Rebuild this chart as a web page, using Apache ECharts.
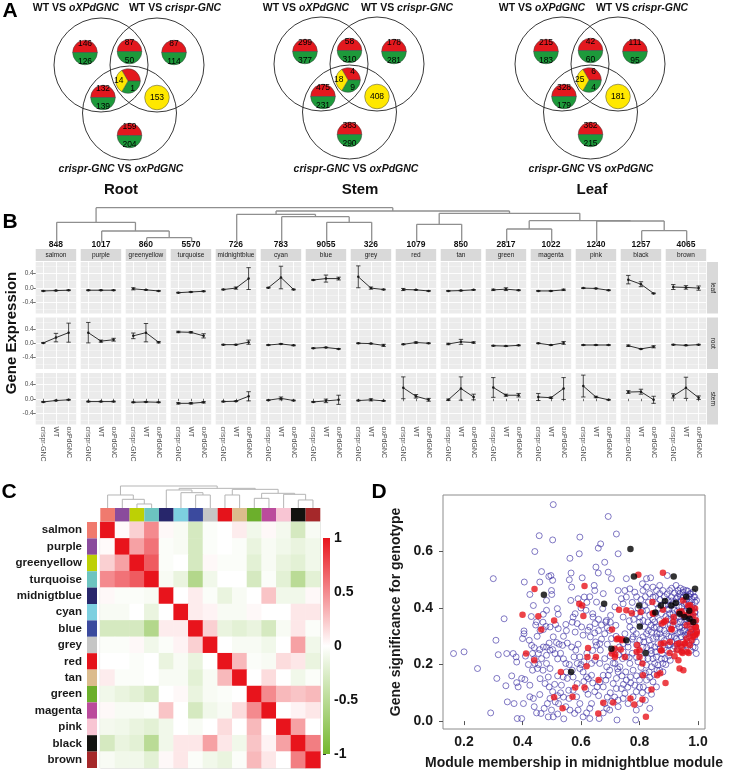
<!DOCTYPE html>
<html><head><meta charset="utf-8">
<script src="https://cdn.jsdelivr.net/npm/echarts@6/dist/echarts.min.js"></script>
<style>html,body{margin:0;padding:0;background:#fff}#c{width:729px;height:772px}</style>
</head><body><div id="c"></div>
<script>
// ================= DATA =================
// Panel A: Venn counts [up(red), down(green)] per region: onlyA, A&B, onlyB, A&C, onlyC
const vennTissues = ['Root', 'Stem', 'Leaf'];
const rootUpDown = [[146,126],[87,50],[87,114],[132,139],[159,204]];
const stemUpDown = [[299,377],[58,310],[178,281],[475,231],[383,290]];
const leafUpDown = [[215,183],[42,60],[111,95],[328,179],[362,215]];
// center (all three): [red, green, yellow]
const rootCenter = ['', 1, 14];
const stemCenter = [4, 9, 18];
const leafCenter = [6, 4, 25];
// B & C only (yellow)
const rootBC = 153, stemBC = 408, leafBC = 181;

// Panel B
const modules = ['salmon','purple','greenyellow','turquoise','midnightblue','cyan','blue','grey','red','tan','green','magenta','pink','black','brown'];
const moduleSizes = [848,1017,860,5570,726,783,9055,326,1079,850,2817,1022,1240,1257,4065];
const genotypes = ['crispr-GNC','WT','oxPdGNC'];
const tissues = ['leaf','root','stem'];
const leafMean = [[-0.09,-0.08,-0.07],[-0.07,-0.07,-0.07],[-0.03,-0.06,-0.09],[-0.14,-0.12,-0.10],[-0.05,-0.01,0.26],[0.0,0.29,-0.05],[0.22,0.26,0.26],[0.31,-0.01,-0.05],[-0.05,-0.06,-0.09],[-0.09,-0.08,-0.06],[-0.06,-0.04,-0.07],[-0.09,-0.09,-0.06],[-0.01,-0.02,-0.07],[0.23,0.10,-0.16],[0.02,0.01,-0.01]];
const leafErr  = [[0.01,0.01,0.01],[0.01,0.01,0.01],[0.03,0.01,0.01],[0.01,0.01,0.01],[0.01,0.03,0.31],[0.01,0.32,0.01],[0.01,0.10,0.04],[0.31,0.03,0.01],[0.03,0.01,0.01],[0.01,0.01,0.01],[0.02,0.04,0.01],[0.01,0.01,0.02],[0.01,0.01,0.01],[0.12,0.07,0.01],[0.07,0.05,0.06]];
const rootMean = [[0.01,0.16,0.30],[0.30,0.06,0.10],[0.21,0.30,0.03],[0.32,0.31,0.21],[-0.04,-0.04,0.03],[-0.05,-0.02,-0.06],[-0.14,-0.12,-0.16],[0.0,-0.01,-0.06],[-0.03,0.02,0.0],[-0.02,0.04,0.02],[-0.07,-0.08,-0.06],[0.0,-0.05,0.01],[-0.05,-0.05,-0.05],[-0.07,-0.16,-0.10],[-0.04,-0.06,-0.04]];
const rootErr  = [[0.01,0.12,0.27],[0.29,0.03,0.04],[0.08,0.26,0.02],[0.02,0.02,0.06],[0.01,0.01,0.06],[0.01,0.01,0.01],[0.01,0.01,0.01],[0.01,0.01,0.03],[0.01,0.02,0.01],[0.02,0.07,0.02],[0.01,0.01,0.01],[0.01,0.01,0.04],[0.01,0.01,0.01],[0.02,0.01,0.03],[0.01,0.01,0.01]];
const stemMean = [[-0.09,-0.05,-0.03],[-0.08,-0.08,-0.08],[-0.10,-0.09,-0.10],[-0.13,-0.13,-0.10],[-0.08,-0.07,0.07],[-0.04,0.01,-0.05],[-0.09,-0.06,-0.03],[-0.05,-0.03,-0.06],[0.31,0.07,-0.03],[-0.03,0.29,0.05],[0.32,0.10,0.10],[0.05,0.03,0.29],[0.36,0.05,-0.03],[0.19,0.20,-0.03],[0.08,0.31,0.03]];
const stemErr  = [[0.01,0.01,0.01],[0.01,0.01,0.01],[0.01,0.01,0.01],[0.02,0.02,0.02],[0.01,0.01,0.13],[0.01,0.04,0.01],[0.01,0.05,0.13],[0.01,0.03,0.01],[0.31,0.05,0.04],[0.02,0.33,0.08],[0.28,0.03,0.05],[0.10,0.02,0.31],[0.31,0.02,0.01],[0.04,0.07,0.10],[0.06,0.30,0.05]];
// dendrogram merges [left, right, height]; leaves 0..14, internal nodes 15..
const dendroB = [[2,3,4.6],[1,15,11.3],[0,16,20],[6,7,20],[5,18,25.6],[4,19,28],[8,9,18],[10,11,13.3],[13,14,11.6],[12,23,21.3],[22,24,21.6],[21,25,29],[20,26,31.3],[17,27,34.6]];

// Panel C
const moduleColors = ['#f07a6e','#8a4b9c','#bdd005','#6cc4c0','#27266b','#7dcfe0','#3b4a9e','#c6c6c6','#e5131b','#dbbc8d','#6caf2c','#bb4b9c','#f8c5d3','#13120f','#a5282a'];
const rowLabels = ['salmon','purple','greenyellow','turquoise','midnigtblue','cyan','blue','grey','red','tan','green','magenta','pink','black','brown'];
const corr = [
 [1,0.02,0.2,0.5,0.03,-0.05,-0.3,-0.03,0,0.08,-0.1,0.03,-0.08,-0.3,-0.05],
 [0.02,1,0.4,0.6,-0.03,-0.05,-0.3,-0.03,0,-0.03,-0.15,-0.05,-0.1,-0.15,-0.1],
 [0.2,0.4,1,0.7,-0.03,0,-0.3,0.03,-0.03,-0.03,-0.2,-0.05,-0.15,-0.2,-0.1],
 [0.5,0.6,0.7,1,-0.05,-0.15,-0.55,-0.1,0,0,-0.3,-0.03,-0.2,-0.5,-0.2],
 [0.03,-0.03,-0.03,-0.05,1,0,0.08,-0.03,-0.15,-0.05,0,0.25,-0.1,-0.1,0.03],
 [-0.05,-0.05,0,-0.15,0,1,0.08,0.05,-0.05,-0.05,0.03,0,0,0.1,0.1],
 [-0.3,-0.3,-0.3,-0.55,0.08,0.08,1,0.2,-0.15,-0.2,-0.15,-0.3,-0.05,0.1,-0.03],
 [-0.03,-0.03,0.03,-0.1,-0.03,0.05,0.2,1,0,-0.05,-0.05,-0.1,0,0.4,-0.1],
 [0,0,-0.03,0,-0.15,-0.05,-0.15,0,1,0.3,-0.03,-0.05,0.15,0.1,-0.15],
 [0.08,-0.03,-0.03,0,-0.05,-0.05,-0.2,-0.05,0.3,1,0,0.15,0,-0.1,-0.03],
 [-0.1,-0.15,-0.2,-0.3,0,0.03,-0.15,-0.05,-0.03,0,1,0.5,0.3,0.25,0.3],
 [0.03,-0.05,-0.05,-0.03,0.25,0,-0.3,-0.1,-0.05,0.15,0.5,1,0,0.05,0.1],
 [-0.08,-0.1,-0.15,-0.2,-0.1,0,-0.05,0,0.15,0,0.3,0,1,0.4,0],
 [-0.3,-0.15,-0.2,-0.5,-0.1,0.1,0.1,0.4,0.1,-0.1,0.25,0.05,0.4,1,0.55],
 [-0.05,-0.1,-0.1,-0.2,0.03,0.1,-0.03,-0.1,-0.15,-0.03,0.3,0.1,0,0.55,1]
];
const colorTicks = [-1,-0.5,0,0.5,1];
const dendroC = [[2,3,13],[1,15,27],[0,16,40],[6,7,40],[5,18,47],[4,19,55],[8,9,40],[10,11,30],[13,14,25],[12,23,42],[22,24,45],[21,25,57],[20,26,60],[17,27,67]];

// Panel D (module membership, gene significance)
const dTicksX = [0.2,0.4,0.6,0.8,1.0];
const dTicksY = [0,0.2,0.4,0.6];
const purplePts = [[0.164,0.239],[0.2,0.245],[0.246,0.186],[0.30,0.504],[0.291,0.029],[0.337,0.362],[0.309,0.286],[0.312,0.151],[0.317,0.235],[0.343,0.125],[0.346,0.239],[0.363,0.16],[0.368,0.239],[0.378,0.227],[0.38,0.209],[0.348,0.068],[0.38,0.136],[0.385,0.121],[0.371,0.062],[0.382,0.009],[0.397,0.009],[0.403,0.062],[0.397,0.151],[0.408,0.147],[0.406,0.492],[0.405,0.319],[0.405,0.309],[0.40,0.292],[0.423,0.286],[0.431,0.268],[0.425,0.448],[0.442,0.60],[0.437,0.409],[0.448,0.351],[0.445,0.34],[0.434,0.239],[0.442,0.204],[0.451,0.186],[0.434,0.18],[0.425,0.127],[0.425,0.086],[0.437,0.08],[0.44,0.051],[0.448,0.029],[0.459,0.094],[0.463,0.027],[0.457,0.656],[0.465,0.529],[0.459,0.492],[0.482,0.427],[0.49,0.512],[0.497,0.515],[0.503,0.498],[0.499,0.462],[0.50,0.448],[0.503,0.641],[0.505,0.766],[0.482,0.392],[0.471,0.378],[0.48,0.335],[0.471,0.324],[0.494,0.333],[0.519,0.398],[0.522,0.378],[0.513,0.341],[0.522,0.327],[0.505,0.298],[0.491,0.276],[0.482,0.262],[0.471,0.262],[0.459,0.253],[0.454,0.239],[0.465,0.221],[0.482,0.233],[0.494,0.251],[0.503,0.253],[0.511,0.239],[0.516,0.278],[0.525,0.272],[0.482,0.204],[0.494,0.186],[0.488,0.156],[0.477,0.133],[0.491,0.121],[0.503,0.104],[0.494,0.08],[0.485,0.062],[0.474,0.045],[0.499,0.039],[0.488,0.015],[0.505,0.015],[0.512,0.068],[0.523,0.062],[0.52,0.025],[0.541,0.008],[0.533,0.127],[0.539,0.156],[0.548,0.204],[0.55,0.174],[0.553,0.151],[0.558,0.109],[0.559,0.08],[0.548,0.051],[0.562,0.039],[0.565,0.427],[0.568,0.474],[0.56,0.50],[0.566,0.524],[0.562,0.576],[0.548,0.342],[0.553,0.276],[0.537,0.268],[0.568,0.262],[0.576,0.227],[0.582,0.251],[0.59,0.272],[0.573,0.368],[0.587,0.345],[0.58,0.315],[0.59,0.433],[0.594,0.592],[0.596,0.651],[0.604,0.507],[0.611,0.439],[0.617,0.392],[0.602,0.333],[0.607,0.304],[0.624,0.321],[0.63,0.333],[0.632,0.298],[0.647,0.312],[0.648,0.345],[0.641,0.368],[0.653,0.421],[0.647,0.462],[0.645,0.48],[0.659,0.524],[0.659,0.612],[0.667,0.627],[0.693,0.724],[0.693,0.527],[0.681,0.562],[0.651,0.545],[0.676,0.451],[0.674,0.398],[0.687,0.356],[0.685,0.351],[0.664,0.274],[0.653,0.268],[0.666,0.251],[0.681,0.221],[0.664,0.204],[0.647,0.215],[0.636,0.204],[0.619,0.156],[0.636,0.162],[0.607,0.174],[0.596,0.186],[0.587,0.204],[0.596,0.227],[0.573,0.156],[0.587,0.133],[0.573,0.109],[0.585,0.086],[0.596,0.062],[0.59,0.039],[0.578,0.027],[0.607,0.015],[0.619,0.029],[0.63,0.009],[0.63,0.045],[0.636,0.062],[0.624,0.095],[0.616,0.112],[0.647,0.104],[0.655,0.121],[0.664,0.138],[0.676,0.121],[0.685,0.145],[0.676,0.162],[0.693,0.162],[0.698,0.18],[0.688,0.192],[0.676,0.029],[0.688,0.045],[0.698,0.039],[0.681,0.062],[0.662,0.009],[0.723,0.004],[0.727,0.074],[0.727,0.051],[0.744,0.08],[0.75,0.098],[0.761,0.062],[0.738,0.115],[0.721,0.115],[0.71,0.133],[0.721,0.151],[0.727,0.174],[0.716,0.204],[0.733,0.192],[0.742,0.221],[0.744,0.245],[0.744,0.274],[0.731,0.262],[0.761,0.262],[0.755,0.227],[0.767,0.204],[0.753,0.174],[0.769,0.156],[0.778,0.18],[0.784,0.127],[0.789,0.104],[0.778,0.086],[0.789,0.039],[0.787,0.004],[0.801,0.062],[0.8,0.145],[0.813,0.121],[0.82,0.074],[0.835,0.045],[0.829,0.109],[0.824,0.145],[0.833,0.174],[0.841,0.192],[0.824,0.198],[0.812,0.221],[0.829,0.221],[0.846,0.221],[0.841,0.239],[0.858,0.227],[0.852,0.204],[0.863,0.198],[0.869,0.18],[0.88,0.204],[0.887,0.221],[0.878,0.239],[0.892,0.251],[0.863,0.274],[0.852,0.262],[0.838,0.268],[0.833,0.286],[0.846,0.292],[0.858,0.298],[0.869,0.309],[0.841,0.315],[0.824,0.309],[0.812,0.298],[0.801,0.286],[0.789,0.309],[0.778,0.321],[0.767,0.333],[0.778,0.298],[0.812,0.262],[0.801,0.245],[0.818,0.333],[0.829,0.351],[0.812,0.356],[0.801,0.368],[0.789,0.38],[0.818,0.409],[0.824,0.392],[0.835,0.375],[0.852,0.351],[0.858,0.333],[0.869,0.356],[0.858,0.415],[0.846,0.439],[0.835,0.451],[0.824,0.474],[0.812,0.462],[0.81,0.486],[0.824,0.504],[0.838,0.507],[0.846,0.474],[0.858,0.462],[0.869,0.451],[0.88,0.462],[0.869,0.48],[0.895,0.515],[0.903,0.462],[0.909,0.439],[0.92,0.453],[0.932,0.462],[0.937,0.451],[0.949,0.456],[0.96,0.462],[0.972,0.451],[0.983,0.456],[0.989,0.439],[0.995,0.427],[0.898,0.427],[0.926,0.433],[0.943,0.427],[0.954,0.415],[0.935,0.404],[0.92,0.392],[0.903,0.38],[0.898,0.362],[0.909,0.356],[0.926,0.368],[0.954,0.351],[0.966,0.374],[0.989,0.386],[0.972,0.333],[0.954,0.321],[0.937,0.333],[0.92,0.321],[0.903,0.327],[0.892,0.309],[0.909,0.298],[0.926,0.292],[0.943,0.298],[0.96,0.298],[0.977,0.315],[0.989,0.298],[0.994,0.28],[0.949,0.28],[0.915,0.256],[0.898,0.268],[0.983,0.262],[0.994,0.239],[0.88,0.174],[0.846,0.139],[0.858,0.121],[0.841,0.095],[0.704,0.504],[0.727,0.462],[0.738,0.433],[0.744,0.415],[0.755,0.439],[0.75,0.462],[0.755,0.504],[0.767,0.468],[0.784,0.456],[0.727,0.592],[0.721,0.662],[0.716,0.404],[0.701,0.374],[0.744,0.368],[0.719,0.339],[0.698,0.321],[0.681,0.309],[0.704,0.292],[0.69,0.272],[0.75,0.309],
[0.96,0.43],[0.97,0.42],[0.98,0.41],[0.985,0.40],[0.975,0.39],[0.965,0.40],[0.955,0.39],[0.945,0.38],[0.96,0.36],[0.97,0.35],[0.98,0.36],[0.99,0.35],[0.985,0.34],[0.975,0.325],[0.965,0.31],[0.955,0.305],[0.94,0.315],[0.93,0.345],[0.915,0.34],[0.905,0.41],[0.915,0.415],[0.925,0.42],[0.94,0.44],[0.95,0.44],[0.96,0.445],[0.97,0.44],[0.98,0.43],[0.99,0.42],[0.99,0.37],[0.995,0.32],[0.99,0.31],[0.98,0.285],[0.97,0.275],[0.96,0.27],[0.945,0.26],[0.93,0.255],[0.93,0.275],[0.91,0.28],[0.885,0.285],[0.875,0.295],[0.885,0.32],[0.88,0.34],[0.89,0.37],[0.875,0.38],[0.865,0.4],[0.88,0.41],[0.885,0.44],[0.895,0.45],[0.91,0.47],[0.925,0.48],[0.94,0.47],[0.855,0.38],[0.845,0.36],[0.87,0.43],[0.855,0.44],[0.96,0.39],[0.95,0.37],[0.935,0.37],[0.92,0.355],[0.905,0.34],[0.895,0.395],[0.87,0.325],[0.86,0.31],[0.85,0.33],[0.84,0.34],[0.83,0.32],[0.815,0.28],[0.825,0.26],[0.84,0.25],[0.855,0.245],[0.87,0.255],[0.885,0.26],[0.9,0.23],[0.905,0.215],[0.89,0.2],[0.875,0.22],[0.86,0.18],[0.85,0.165],[0.835,0.155],[0.82,0.17],[0.805,0.19],[0.795,0.21],[0.79,0.225],[0.775,0.24],[0.765,0.225],[0.76,0.28],[0.775,0.29],[0.79,0.27],[0.8,0.35],[0.81,0.39],[0.795,0.4],[0.78,0.36],[0.765,0.355],[0.775,0.42],[0.79,0.44],[0.805,0.43],[0.82,0.44],[0.83,0.42],[0.77,0.39],[0.72,0.3],[0.71,0.25],[0.73,0.235],[0.7,0.23],[0.71,0.205],[0.725,0.185],[0.74,0.16],[0.755,0.145],[0.77,0.135],[0.76,0.12],[0.745,0.13],[0.8,0.12],[0.81,0.1],[0.79,0.16],[0.81,0.165],[0.7,0.1],[0.715,0.085],[0.705,0.07],[0.69,0.085],[0.66,0.09],[0.64,0.135],[0.625,0.15],[0.61,0.14],[0.6,0.2],[0.61,0.21],[0.62,0.24],[0.64,0.25],[0.65,0.28],[0.67,0.29],[0.66,0.32],[0.67,0.34],[0.69,0.33],[0.7,0.35],[0.66,0.36],[0.64,0.38],[0.62,0.42],[0.63,0.44],[0.6,0.4],[0.58,0.38],[0.57,0.35],[0.55,0.32],[0.54,0.3],[0.53,0.24],[0.52,0.22],[0.54,0.22],[0.56,0.2],[0.57,0.18],[0.52,0.16],[0.51,0.13],[0.53,0.1],[0.54,0.085],[0.52,0.09],[0.46,0.15],[0.47,0.18],[0.455,0.2],[0.44,0.22],[0.42,0.2],[0.41,0.23],[0.44,0.26],[0.45,0.3],[0.46,0.32],[0.47,0.35],[0.43,0.37],
[0.975,0.37],[0.965,0.355],[0.955,0.34],[0.945,0.33],[0.93,0.31],[0.92,0.3],[0.94,0.35],[0.95,0.32],[0.97,0.3],[0.985,0.305],[0.99,0.385],[0.98,0.395],[0.97,0.405],[0.96,0.415],[0.945,0.405],[0.93,0.39],[0.915,0.38],[0.9,0.395],[0.89,0.41],[0.91,0.425],[0.93,0.44],[0.985,0.44],[0.975,0.45],[0.965,0.46],[0.95,0.465],[0.9,0.3],[0.905,0.27],[0.92,0.265],[0.95,0.25],[0.975,0.25],[0.99,0.26]];
const redPts = [[0.441,0.467],[0.40,0.376],[0.454,0.371],[0.464,0.324],[0.508,0.356],[0.412,0.239],[0.44,0.215],[0.612,0.478],[0.594,0.415],[0.604,0.409],[0.608,0.372],[0.73,0.394],[0.755,0.392],[0.774,0.382],[0.796,0.518],[0.88,0.525],[0.844,0.421],[0.845,0.382],[0.88,0.394],[0.89,0.356],[0.876,0.345],[0.909,0.327],[0.917,0.368],[0.944,0.389],[0.949,0.427],[0.966,0.409],[0.977,0.35],[0.992,0.333],[0.995,0.309],[0.983,0.298],[0.972,0.268],[0.954,0.274],[0.943,0.262],[0.928,0.272],[0.968,0.241],[0.947,0.241],[0.92,0.229],[0.903,0.241],[0.937,0.186],[0.889,0.135],[0.873,0.274],[0.873,0.25],[0.86,0.162],[0.871,0.169],[0.812,0.162],[0.81,0.076],[0.822,0.015],[0.782,0.059],[0.769,0.08],[0.676,0.065],[0.71,0.066],[0.659,0.027],[0.571,0.086],[0.537,0.045],[0.508,0.084],[0.531,0.174],[0.58,0.119],[0.612,0.119],[0.66,0.145],[0.619,0.194],[0.622,0.227],[0.624,0.259],[0.716,0.256],[0.705,0.239],[0.727,0.292],[0.717,0.236],[0.792,0.269],[0.79,0.245],[0.8,0.227],[0.81,0.204],[0.841,0.112],[0.706,0.324],[0.74,0.29],[0.804,0.386],[0.847,0.38],[0.884,0.351],[0.916,0.351],[0.936,0.386],[0.95,0.375],[0.967,0.38],[0.978,0.392],[0.99,0.398],[0.973,0.41],[0.984,0.375],[0.993,0.357],[0.961,0.339],[0.978,0.327],[0.993,0.333],[0.973,0.31],[0.99,0.304],[0.961,0.292],[0.978,0.286],[0.996,0.316],[0.956,0.275],[0.936,0.275],[0.927,0.251],[0.944,0.245],[0.904,0.28],[0.963,0.245],[0.91,0.324],[0.739,0.286],[0.722,0.29],[0.651,0.227],[0.716,0.227],[0.736,0.253],[0.876,0.251],[0.8,0.251],[0.95,0.18],[0.884,0.275],[0.933,0.215],[0.75,0.227]];
const blackPts = [[0.769,0.609],[0.781,0.512],[0.917,0.512],[0.473,0.447],[0.679,0.415],[0.799,0.409],[0.887,0.425],[0.873,0.409],[0.909,0.409],[0.924,0.418],[0.99,0.468],[0.96,0.44],[0.854,0.384],[0.937,0.38],[0.954,0.368],[0.971,0.362],[0.984,0.351],[0.801,0.335],[0.755,0.286],[0.704,0.256],[0.821,0.241],[0.566,0.174],[0.97,0.39]];

// ================= BUILD =================
const FONT = '"Liberation Sans", Arial, Helvetica, sans-serif';
const RED = '#e3181e', GREEN = '#1d9a3b', YELLOW = '#ffe800';
const grids = [], xAxes = [], yAxes = [], series = [], graphics = [];
const txt = (x, y, text, o) => graphics.push(Object.assign({type:'text', x, y, silent:true,
  style: Object.assign({text, fontFamily: FONT, fill:'#111', align:'center', verticalAlign:'middle'}, o && o.style)}, o && o.el));

// ---- Panel letters
[['A',10,11],['B',10,222],['C',9,492],['D',379,492]].forEach(([t,x,y]) =>
  txt(x, y, t, {style:{fontSize:21, fontWeight:'bold', fill:'#000'}}));

// ---- Panel A
const vennBase = [[101,65],[321,64],[562,64]];
const vennR = 47;
const circOff = [[0,0],[56,0],[28.5,48]];
const regionOff = [[-16,-12.5],[28.5,-13.5],[73,-12.5],[2,32.5],[28.5,70.5]]; // onlyA, AB, onlyB, AC, onlyC
const centerOff = [27,16], bcOff = [56,32.5];
const titleX = [[76,175,121],[306,407,356],[542,642,591]];
const tissueX = [121, 360, 592];
const upDownAll = [rootUpDown, stemUpDown, leafUpDown];
const centerAll = [rootCenter, stemCenter, leafCenter];
const bcAll = [rootBC, stemBC, leafBC];
const pieLabel = {fontSize:8.5, color:'#000000', fontFamily:FONT, textBorderWidth:0, textShadowBlur:0, opacity:1};
const pieBase = {type:'pie', radius:12.3, silent:true, animation:false, avoidLabelOverlap:false,
  labelLine:{show:false}, itemStyle:{borderColor:'#444', borderWidth:0.5},
  label:Object.assign({position:'inside'}, pieLabel)};
vennTissues.forEach((tName, t) => {
  const [bx, by] = vennBase[t];
  circOff.forEach(([dx,dy]) => graphics.push({type:'circle', silent:true, shape:{cx:bx+dx, cy:by+dy, r:vennR}, style:{fill:'none', stroke:'#222', lineWidth:0.9}}));
  const rich = {n:{fontWeight:'bold', fontSize:10.5, fontFamily:FONT, fill:'#111'}, i:{fontWeight:'bold', fontStyle:'italic', fontSize:10.5, fontFamily:FONT, fill:'#111'}};
  txt(titleX[t][0], 8, '{n|WT VS }{i|oXPdGNC}', {style:{rich}});
  txt(titleX[t][1], 8, '{n|WT VS }{i|crispr-GNC}', {style:{rich}});
  txt(titleX[t][2], 169, '{i|crispr-GNC}{n| VS }{i|oxPdGNC}', {style:{rich}});
  txt(tissueX[t], 190, tName, {style:{fontSize:15, fontWeight:'bold', fill:'#111'}});
  upDownAll[t].forEach((ud, k) => {
    series.push(Object.assign({}, pieBase, {center:[bx+regionOff[k][0], by+regionOff[k][1]], startAngle:180, clockwise:true,
      data:[{value:1, name:'up', itemStyle:{color:RED}, label:{formatter:String(ud[0])}},
            {value:1, name:'down', itemStyle:{color:GREEN}, label:{formatter:String(ud[1])}}]}));
  });
  const c = centerAll[t];
  series.push(Object.assign({}, pieBase, {center:[bx+centerOff[0], by+centerOff[1]], startAngle:120, clockwise:true,
    data:[{value:1, name:'up', itemStyle:{color:RED}, label:{formatter:String(c[0])}},
          {value:1, name:'down', itemStyle:{color:GREEN}, label:{formatter:String(c[1])}},
          {value:1, name:'shared', itemStyle:{color:YELLOW}, label:{formatter:String(c[2])}}]}));
  series.push(Object.assign({}, pieBase, {center:[bx+bcOff[0], by+bcOff[1]],
    label:Object.assign({position:'center'}, pieLabel),
    data:[{value:1, name:'bc', itemStyle:{color:YELLOW}, label:{formatter:String(bcAll[t])}}]}));
});

// ---- Panel B facets
const BX0 = 35.7, BDX = 45, BW = 40.5, BY0 = 262, BDY = 55.5, BH = 51.5;
const meansAll = [leafMean, rootMean, stemMean], errsAll = [leafErr, rootErr, stemErr];
const errRender = (p, api) => {
  const x = api.value(0), lo = api.coord([x, api.value(1)]), hi = api.coord([x, api.value(2)]);
  const w = 2.2, st = {stroke:'#1a1a1a', lineWidth:0.8};
  return {type:'group', children:[
    {type:'line', shape:{x1:lo[0], y1:lo[1], x2:hi[0], y2:hi[1]}, style:st},
    {type:'line', shape:{x1:lo[0]-w, y1:lo[1], x2:lo[0]+w, y2:lo[1]}, style:st},
    {type:'line', shape:{x1:hi[0]-w, y1:hi[1], x2:hi[0]+w, y2:hi[1]}, style:st}]};
};
tissues.forEach((tis, r) => {
  modules.forEach((mod, m) => {
    const gi = grids.length;
    grids.push({left:BX0+BDX*m, top:BY0+BDY*r, width:BW, height:BH, show:true, backgroundColor:'#ebebeb', borderWidth:0});
    const xi = xAxes.length;
    xAxes.push({type:'value', gridIndex:gi, min:0.4, max:3.6, axisLine:{show:false},
      axisTick:{show:r===2, customValues:[1,2,3], length:2.5, lineStyle:{color:'#333', width:0.7}},
      axisLabel:{show:r===2, customValues:[1,2,3], rotate:-90, margin:2, fontSize:7, color:'#4d4d4d', fontFamily:FONT,
        formatter: v => genotypes[Math.round(v)-1]},
      splitLine:{show:true, lineStyle:{color:'#ffffff', width:0.9}}});
    const yi = yAxes.length;
    yAxes.push({type:'value', gridIndex:gi, min:-0.73, max:0.73, axisLine:{show:false},
      axisTick:{show:m===0, customValues:[-0.4,0,0.4], length:2.5, lineStyle:{color:'#333', width:0.7}},
      axisLabel:{show:m===0, customValues:[-0.4,0,0.4], margin:2, fontSize:6.5, color:'#4d4d4d', fontFamily:FONT,
        formatter: v => v.toFixed(1)},
      splitLine:{show:true, lineStyle:{color:'#ffffff', width:0.9}}});
    yAxes.push({type:'value', gridIndex:gi, min:-0.73, max:0.73, position:'left', axisLine:{show:false},
      axisTick:{show:false, customValues:[-0.6,-0.2,0.2,0.6]}, axisLabel:{show:false},
      splitLine:{show:true, lineStyle:{color:'#f8f8f8', width:0.5}}});
    const mean = meansAll[r][m], err = errsAll[r][m];
    series.push({type:'custom', xAxisIndex:xi, yAxisIndex:yi, silent:true, animation:false, renderItem:errRender,
      data: mean.map((v,k) => [k+1, v-err[k], v+err[k]])});
    series.push({type:'line', xAxisIndex:xi, yAxisIndex:yi, silent:true, animation:false,
      data: mean.map((v,k) => [k+1, v]), symbol:'circle', symbolSize:2.5, showSymbol:true,
      lineStyle:{color:'#1a1a1a', width:0.9}, itemStyle:{color:'#1a1a1a'}});
    if (r === 0) {
      const cx = BX0 + BDX*m + BW/2;
      graphics.push({type:'rect', silent:true, shape:{x:BX0+BDX*m, y:249, width:BW, height:12}, style:{fill:'#d9d9d9'}});
      txt(cx, 255.5, mod, {style:{fontSize:6.5, fill:'#1a1a1a'}});
      txt(cx, 244.5, String(moduleSizes[m]), {style:{fontSize:8.5, fontWeight:'bold', fill:'#111'}});
    }
  });
  const sy = BY0 + BDY*r;
  graphics.push({type:'rect', silent:true, shape:{x:707, y:sy, width:11, height:BH}, style:{fill:'#d9d9d9'}});
  txt(712.5, sy + BH/2, tis, {el:{rotation:-Math.PI/2}, style:{fontSize:6.5, fill:'#1a1a1a'}});
});
txt(12, 333, 'Gene Expression', {el:{rotation:Math.PI/2}, style:{fontSize:15, fontWeight:'bold', fill:'#111'}});

// ---- dendrogram helper
function dendro(merges, gridOpt, hMax, color, width) {
  const gi = grids.length; grids.push(Object.assign({show:false}, gridOpt));
  const xi = xAxes.length; xAxes.push({type:'value', gridIndex:gi, min:-0.5, max:14.5, show:false});
  const yi = yAxes.length; yAxes.push({type:'value', gridIndex:gi, min:0, max:hMax, show:false});
  const pos = [], hgt = [], segs = [];
  for (let i = 0; i < 15; i++) { pos[i] = i; hgt[i] = 0; }
  merges.forEach(([a,b,h], k) => {
    const id = 15 + k; pos[id] = (pos[a]+pos[b])/2; hgt[id] = h;
    segs.push([pos[a], hgt[a], pos[a], h], [pos[a], h, pos[b], h], [pos[b], h, pos[b], hgt[b]]);
  });
  series.push({type:'custom', xAxisIndex:xi, yAxisIndex:yi, silent:true, animation:false, data:segs,
    renderItem:(p, api) => { const a = api.coord([api.value(0), api.value(1)]), b = api.coord([api.value(2), api.value(3)]);
      return {type:'line', shape:{x1:a[0], y1:a[1], x2:b[0], y2:b[1]}, style:{stroke:color, lineWidth:width}}; }});
}
dendro(dendroB, {left:BX0-1.5, top:207.7, width:15*BDX, height:34.6}, 34.6, '#8f8f8f', 1.3);

// ---- Panel C
const HX = 100.3, HW = 220, HY = 522, HH = 246;
dendro(dendroC, {left:HX, top:486, width:HW, height:22.3}, 67, '#b5b5b5', 1);
// column color bar
{
  const gi = grids.length; grids.push({left:HX, top:508, width:HW, height:13.5, show:false});
  const xi = xAxes.length; xAxes.push({type:'category', gridIndex:gi, data:modules, show:false});
  const yi = yAxes.length; yAxes.push({type:'category', gridIndex:gi, data:['c'], show:false});
  series.push({type:'custom', xAxisIndex:xi, yAxisIndex:yi, silent:true, animation:false,
    data: modules.map((m,i) => [i, 0]),
    renderItem:(p, api) => { const c = api.coord([api.value(0), api.value(1)]), s = api.size([1,1]);
      return {type:'rect', shape:{x:c[0]-s[0]/2, y:c[1]-s[1]/2, width:s[0], height:s[1]}, style:{fill:moduleColors[api.value(0)]}}; }});
}
// row color bar + labels
{
  const gi = grids.length; grids.push({left:87, top:HY, width:10, height:HH, show:false});
  const xi = xAxes.length; xAxes.push({type:'category', gridIndex:gi, data:['r'], show:false});
  const yi = yAxes.length; yAxes.push({type:'category', gridIndex:gi, data:rowLabels, inverse:true,
    axisLine:{show:false}, axisTick:{show:false},
    axisLabel:{margin:5, fontSize:11.5, fontWeight:'bold', color:'#1a1a1a', fontFamily:FONT}});
  series.push({type:'custom', xAxisIndex:xi, yAxisIndex:yi, silent:true, animation:false,
    data: modules.map((m,i) => [0, i]),
    renderItem:(p, api) => { const c = api.coord([api.value(0), api.value(1)]), s = api.size([1,1]);
      return {type:'rect', shape:{x:c[0]-s[0]/2, y:c[1]-s[1]/2, width:s[0], height:s[1]}, style:{fill:moduleColors[api.value(1)]}}; }});
}
// heatmap
let heatIdx;
{
  const gi = grids.length; grids.push({left:HX, top:HY, width:HW, height:HH, show:true, borderColor:'#c8c8c8', borderWidth:1, backgroundColor:'transparent'});
  const xi = xAxes.length; xAxes.push({type:'category', gridIndex:gi, data:modules, show:false});
  const yi = yAxes.length; yAxes.push({type:'category', gridIndex:gi, data:modules, inverse:true, show:false});
  const data = [];
  corr.forEach((row, i) => row.forEach((v, j) => data.push([j, i, v])));
  heatIdx = series.length;
  series.push({type:'heatmap', xAxisIndex:xi, yAxisIndex:yi, data, silent:true, animation:false, progressive:0});
}
// color scale bar
{
  const gi = grids.length; grids.push({left:323, top:538, width:7, height:216, show:false});
  const xi = xAxes.length; xAxes.push({type:'value', gridIndex:gi, min:0, max:1, show:false});
  const yi = yAxes.length; yAxes.push({type:'value', gridIndex:gi, min:-1, max:1, interval:0.5, position:'right',
    axisLine:{show:false}, splitLine:{show:false},
    axisTick:{show:true, length:3, lineStyle:{color:'#333', width:1}},
    axisLabel:{margin:4, fontSize:14, fontWeight:'bold', color:'#111', fontFamily:FONT,
      formatter: v => colorTicks.indexOf(v) >= 0 ? String(v) : ''}});
  series.push({type:'custom', xAxisIndex:xi, yAxisIndex:yi, silent:true, animation:false, data:[[0, colorTicks[4], 1, colorTicks[0]]],
    renderItem:(p, api) => { const a = api.coord([api.value(0), api.value(1)]), b = api.coord([api.value(2), api.value(3)]);
      return {type:'rect', shape:{x:a[0], y:a[1], width:b[0]-a[0], height:b[1]-a[1]},
        style:{fill:new echarts.graphic.LinearGradient(0,0,0,1,[{offset:0,color:'#e8141c'},{offset:0.5,color:'#ffffff'},{offset:1,color:'#74b72c'}])}}; }});
}

// ---- Panel D
{
  const gi = grids.length; grids.push({left:443, top:495, width:262, height:234, show:true, borderColor:'#8c8c8c', borderWidth:1, backgroundColor:'transparent'});
  const xi = xAxes.length; xAxes.push({type:'value', gridIndex:gi, min:0.128, max:1.024, axisLine:{show:false},
    axisTick:{customValues:dTicksX, length:4, lineStyle:{color:'#555'}},
    axisLabel:{customValues:dTicksX, margin:6, fontSize:14, fontWeight:'bold', color:'#1a1a1a', fontFamily:FONT, formatter:v=>v.toFixed(1)},
    splitLine:{show:false}, name:'Module membership in midnightblue module', nameLocation:'middle', nameGap:27,
    nameTextStyle:{fontSize:14, fontWeight:'bold', color:'#1a1a1a', fontFamily:FONT}});
  const yi = yAxes.length; yAxes.push({type:'value', gridIndex:gi, min:-0.028, max:0.80, axisLine:{show:false},
    axisTick:{customValues:dTicksY, length:4, lineStyle:{color:'#555'}},
    axisLabel:{customValues:dTicksY, margin:10, fontSize:14, fontWeight:'bold', color:'#1a1a1a', fontFamily:FONT, formatter:v=>v.toFixed(1)},
    splitLine:{show:false}, name:'Gene significance for genotype', nameLocation:'middle', nameGap:40, nameRotate:90,
    nameTextStyle:{fontSize:14, fontWeight:'bold', color:'#1a1a1a', fontFamily:FONT}});
  series.push({type:'scatter', xAxisIndex:xi, yAxisIndex:yi, data:purplePts, symbol:'circle', symbolSize:6, silent:true, animation:false,
    itemStyle:{color:'rgba(255,255,255,0)', borderColor:'#3b2da2', borderWidth:0.8}});
  series.push({type:'scatter', xAxisIndex:xi, yAxisIndex:yi, data:redPts, symbol:'circle', symbolSize:6.5, silent:true, animation:false,
    itemStyle:{color:'#e8141c'}});
  series.push({type:'scatter', xAxisIndex:xi, yAxisIndex:yi, data:blackPts, symbol:'circle', symbolSize:6.5, silent:true, animation:false,
    itemStyle:{color:'#000'}});
}

const chart = echarts.init(document.getElementById('c'), null, {renderer:'canvas', width:729, height:772});
chart.setOption({
  animation:false, backgroundColor:'#ffffff',
  textStyle:{fontFamily:FONT},
  grid:grids, xAxis:xAxes, yAxis:yAxes,
  visualMap:[{type:'continuous', show:false, min:-1, max:1, seriesIndex:heatIdx, inRange:{color:['#74b72c','#ffffff','#e8141c']}}],
  series, graphic:graphics
});
</script></body></html>
